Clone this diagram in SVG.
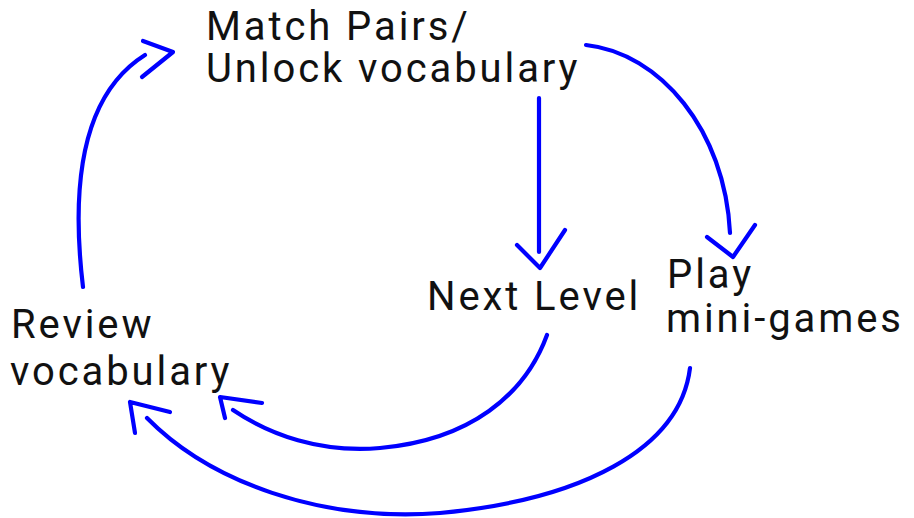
<svg xmlns="http://www.w3.org/2000/svg" width="914" height="518" viewBox="0 0 914 518">
<style>
.lbl{font-family:Roboto,"Liberation Sans",sans-serif;font-size:40px;letter-spacing:2.9px;fill:#111}
.c{fill:none;stroke:#0000ff;stroke-width:4.2;stroke-linecap:round;stroke-linejoin:round}
</style>
<rect width="914" height="518" fill="#fff"/>
<g id="node-match">
<text class="lbl" x="206" y="39.5">Match Pairs/</text>
<text class="lbl" x="206" y="82">Unlock vocabulary</text>
</g>
<g id="node-next">
<text class="lbl" x="427" y="310">Next Level</text>
</g>
<g id="node-play">
<text class="lbl" x="667" y="288">Play</text>
<text class="lbl" x="666" y="332">mini-games</text>
</g>
<g id="node-review">
<text class="lbl" x="11" y="338">Review</text>
<text class="lbl" x="10" y="385">vocabulary</text>
</g>
<g id="connectors">
<path class="c" d="M83,287 C72,195 78,97 145,55"/>
<polyline class="c" points="143,41 173,52 142,77"/>
<path class="c" d="M539,98 L539,252"/>
<polyline class="c" points="517,245 540,268 565,230"/>
<path class="c" d="M586,45 C660,53 725,130 730,233"/>
<polyline class="c" points="707,237 733,257 755,225"/>
<path class="c" d="M547,335 C525,395 470,440 380,448 C320,453 270,435 233,410"/>
<polyline class="c" points="262,403 220,397 225,418"/>
<path class="c" d="M690,368 C680,450 580,500 440,513 C320,522 210,482 147,418"/>
<polyline class="c" points="170,412 130,402 135,433"/>
</g>
</svg>
